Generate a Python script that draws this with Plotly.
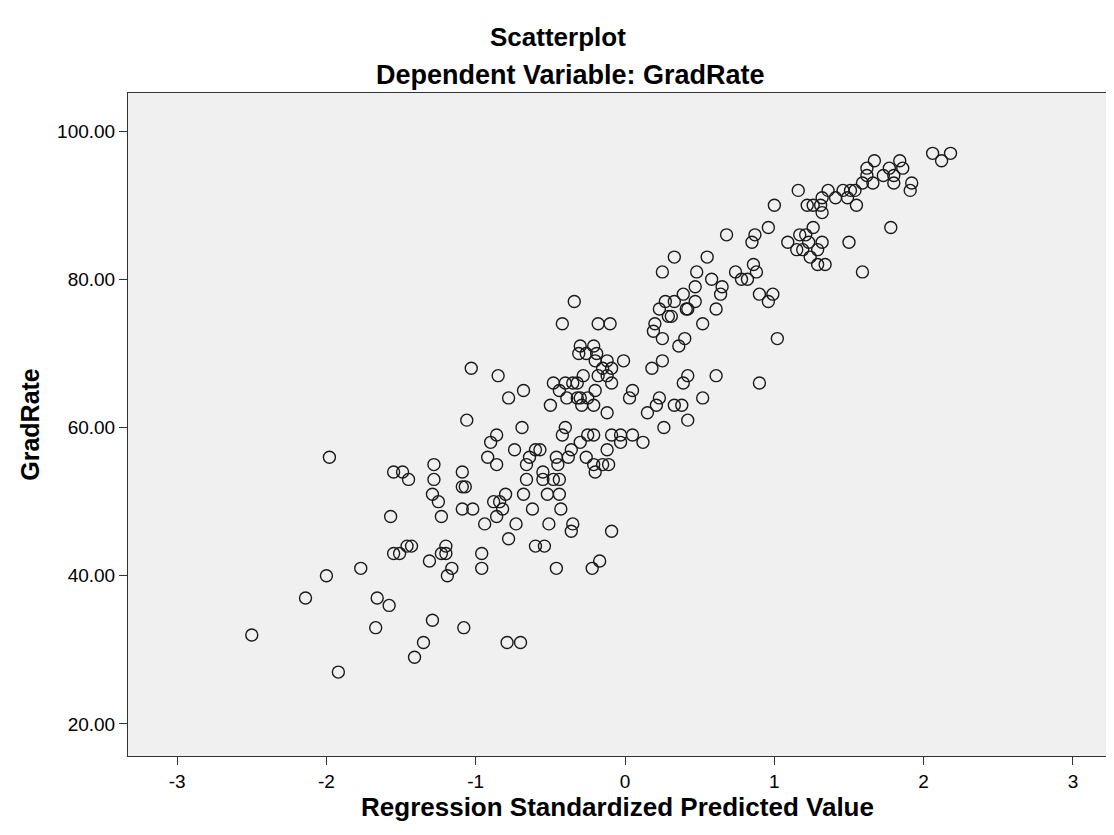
import plotly.graph_objects as go

# Regression standardized predicted value (x) and GradRate (y)
pred_value = [
    2.06, 2.18, 2.12, 1.67, 1.62, 1.62, 1.84, 1.86, 1.77, 1.80,
    1.80, 1.73, 1.66, 1.59, 1.92, 1.91, 1.54, 1.51, 1.46, 1.49,
    1.55, 1.36, 1.41, 1.32, 1.26, 1.31, 1.22, 1.32, 1.16, 1.00,
    0.96, 0.87, 0.85, 0.68, 1.26, 1.17, 1.21, 1.09, 1.15, 1.19,
    1.23, 1.32, 1.29, 1.24, 1.29, 1.34, 1.50, 1.78, 1.59, 0.33,
    0.25, 0.55, 0.48, 0.58, 0.65, 0.64, 0.47, 0.39, 0.47, 0.74,
    0.78, 0.82, 0.86, 0.88, 0.90, 0.99, 0.96, 0.27, 0.23, 0.29,
    0.31, 0.33, 0.41, 0.42, 0.61, 0.20, 0.19, 0.25, 0.52, 0.40,
    0.36, 1.02, -0.10, -0.18, 0.25, 0.18, -0.01, 0.42, 0.39, 0.61,
    0.90, 0.23, 0.21, 0.15, 0.05, 0.03, 0.33, 0.38, 0.52, 0.42,
    0.26, -0.12, -0.09, -0.03, 0.05, 0.12, -0.03, -0.12, -0.09, -0.12,
    -0.09, -0.12, -0.11, -0.34, -0.42, -0.30, -0.21, -0.31, -0.26, -0.19,
    -0.15, -0.20, -0.18, -0.28, -0.48, -0.40, -0.35, -0.32, -0.44, -0.20,
    -0.39, -0.32, -0.30, -0.25, -0.50, -0.29, -0.21, -1.03, -0.85, -0.78,
    -0.68, -1.06, -0.69, -0.40, -0.42, -0.25, -0.21, -0.30, -0.36, -0.86,
    -0.90, -0.74, -0.92, -0.86, -0.60, -0.57, -0.64, -0.66, -0.46, -0.38,
    -0.26, -0.45, -0.21, -0.15, -0.20, -0.55, -0.66, -0.55, -0.48, -0.44,
    -0.68, -0.52, -0.44, -0.62, -0.43, -0.51, -0.35, -0.36, -0.09, -0.73,
    -0.78, -0.60, -0.54, -0.96, -1.55, -1.49, -1.45, -1.28, -1.28, -1.29,
    -1.25, -1.09, -1.09, -1.07, -1.09, -1.02, -1.23, -1.57, -0.88, -0.84,
    -0.80, -0.82, -0.86, -0.94, -1.46, -1.43, -1.55, -1.51, -1.20, -1.23,
    -1.20, -1.31, -1.16, -1.19, -0.96, -1.77, -2.00, -2.14, -1.66, -1.58,
    -1.67, -1.29, -1.08, -1.35, -1.41, -0.79, -0.70, -2.50, -1.92, -0.46,
    -0.22, -0.17, -1.98,
]
grad_rate = [
    97, 97, 96, 96, 95, 94, 96, 95, 95, 94,
    93, 94, 93, 93, 93, 92, 92, 92, 92, 91,
    90, 92, 91, 91, 90, 90, 90, 89, 92, 90,
    87, 86, 85, 86, 87, 86, 86, 85, 84, 84,
    85, 85, 84, 83, 82, 82, 85, 87, 81, 83,
    81, 83, 81, 80, 79, 78, 79, 78, 77, 81,
    80, 80, 82, 81, 78, 78, 77, 77, 76, 75,
    75, 77, 76, 76, 76, 74, 73, 72, 74, 72,
    71, 72, 74, 74, 69, 68, 69, 67, 66, 67,
    66, 64, 63, 62, 65, 64, 63, 63, 64, 61,
    60, 62, 59, 59, 59, 58, 58, 69, 68, 67,
    66, 57, 55, 77, 74, 71, 71, 70, 70, 70,
    68, 69, 67, 67, 66, 66, 66, 66, 65, 65,
    64, 64, 64, 64, 63, 63, 63, 68, 67, 64,
    65, 61, 60, 60, 59, 59, 59, 58, 57, 59,
    58, 57, 56, 55, 57, 57, 56, 55, 56, 56,
    56, 55, 55, 55, 54, 54, 53, 53, 53, 53,
    51, 51, 51, 49, 49, 47, 47, 46, 46, 47,
    45, 44, 44, 43, 54, 54, 53, 55, 53, 51,
    50, 54, 52, 52, 49, 49, 48, 48, 50, 50,
    51, 49, 48, 47, 44, 44, 43, 43, 44, 43,
    43, 42, 41, 40, 41, 41, 40, 37, 37, 36,
    33, 34, 33, 31, 29, 31, 31, 32, 27, 41,
    41, 42, 56,
]

x_ticks = [-3, -2, -1, 0, 1, 2, 3]
y_ticks = [20, 40, 60, 80, 100]

title_text = "Scatterplot"
subtitle_text = "Dependent Variable: GradRate"
x_title = "Regression Standardized Predicted Value"
y_title = "GradRate"

FONT = "Liberation Sans, Arial, sans-serif"

fig = go.Figure()
fig.add_trace(go.Scatter(
    x=pred_value, y=grad_rate, mode="markers",
    marker=dict(symbol="circle-open", size=12, color="#1a1a1a",
                line=dict(width=1.4, color="#1a1a1a")),
    showlegend=False, hoverinfo="x+y",
))

# page body has an 8px margin, so the figure is sized to fit the 1114x835 window
fig.update_layout(
    width=1106, height=827,
    margin=dict(l=120, r=7, t=85, b=79),
    paper_bgcolor="white", plot_bgcolor="#f0f0f0",
    font=dict(family=FONT, color="black"),
    annotations=[
        dict(text="<b>%s</b>" % title_text, xref="paper", yref="paper",
             x=0.439, y=1.0845, xanchor="center", yanchor="middle",
             showarrow=False, font=dict(size=26, family=FONT, color="black")),
        dict(text="<b>%s</b>" % subtitle_text, xref="paper", yref="paper",
             x=0.452, y=1.027, xanchor="center", yanchor="middle",
             showarrow=False, font=dict(size=27, family=FONT, color="black")),
    ],
)
fig.update_xaxes(
    range=[-3.329, 3.228], tickvals=x_ticks, ticktext=[str(v) for v in x_ticks],
    ticks="outside", ticklen=8, tickwidth=1, tickcolor="#333",
    showgrid=False, zeroline=False,
    showline=True, linecolor="#333", linewidth=1, mirror=True,
    tickfont=dict(size=19, family=FONT, color="black"),
    title=dict(text="<b>%s</b>" % x_title, font=dict(size=26, family=FONT), standoff=6),
)
fig.update_yaxes(
    range=[15.68, 105.14], tickvals=y_ticks, tickformat=".2f",
    ticks="outside", ticklen=8, tickwidth=1, tickcolor="#333",
    showgrid=False, zeroline=False,
    showline=True, linecolor="#333", linewidth=1, mirror=True,
    tickfont=dict(size=19, family=FONT, color="black"),
    title=dict(text="<b>%s</b>" % y_title, font=dict(size=25, family=FONT), standoff=10),
)

fig.write_html("out.html")
